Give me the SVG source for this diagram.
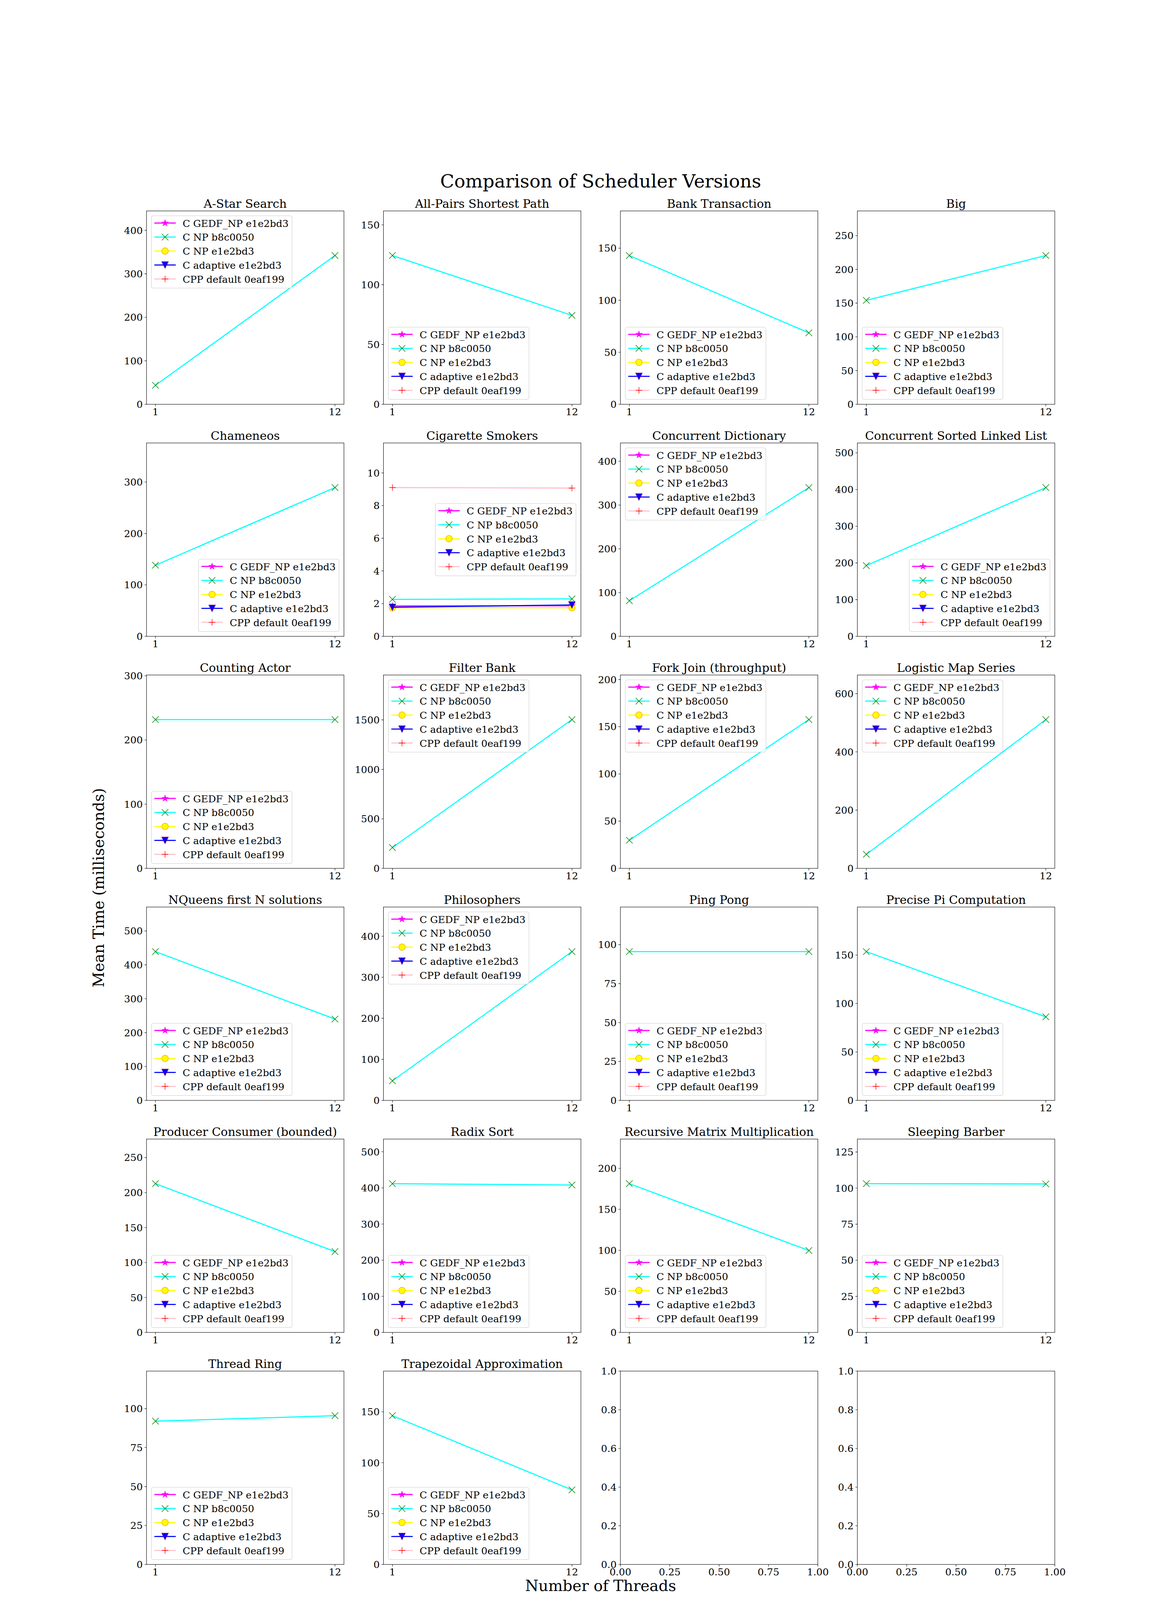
<svg xmlns="http://www.w3.org/2000/svg" xmlns:xlink="http://www.w3.org/1999/xlink" width="3000" height="4500" viewBox="0 0 3000 4500">
<style>
text{font-family:"DejaVu Serif","Liberation Serif",serif;fill:#000}
.ti{font-size:30px;text-anchor:middle}
.yt{font-size:25px;text-anchor:end}
.xt{font-size:25px;text-anchor:middle}
.lt{font-size:25px}
.ax{fill:none;stroke:#000;stroke-width:1.1}
.tk{fill:none;stroke:#000;stroke-width:1.1}
.lg{fill:#fff;fill-opacity:0.8;stroke:#cccccc;stroke-width:1.1}
.l-mg{stroke:#ff00ff;stroke-width:2.8;fill:none;stroke-linecap:square}
.l-cy{stroke:#00ffff;stroke-width:2.8;fill:none;stroke-linecap:square}
.l-ye{stroke:#ffff00;stroke-width:2.8;fill:none;stroke-linecap:square}
.l-bl{stroke:#0000ff;stroke-width:2.8;fill:none;stroke-linecap:square}
.l-pk{stroke:#ffc0cb;stroke-width:2.8;fill:none;stroke-linecap:square}
</style>
<defs>
<polygon id="mk-star" points="0,-8.35 1.875,-2.58 7.94,-2.58 3.03,0.99 4.91,6.76 0,3.19 -4.91,6.76 -3.03,0.99 -7.94,-2.58 -1.875,-2.58" fill="#ff00ff" stroke="#ff00ff" stroke-width="1.2"/>
<path id="mk-x" d="M-8.35,-8.35L8.35,8.35M-8.35,8.35L8.35,-8.35" stroke="#008000" stroke-width="1.4" fill="none"/>
<circle id="mk-o" r="8.35" fill="#ffff00" stroke="#ffa500" stroke-width="1.4"/>
<polygon id="mk-v" points="-8.35,-8.35 8.35,-8.35 0,8.35" fill="#0000ff" stroke="#800080" stroke-width="1.4"/>
<path id="mk-p" d="M-8.35,0H8.35M0,-8.35V8.35" stroke="#ff0000" stroke-width="1.4" fill="none"/>
<g id="lgh">
<rect class="lg" x="0" y="0" width="360" height="185" rx="5"/>
<path class="l-mg" d="M9,18.5H61"/><use href="#mk-star" x="35" y="18.5"/>
<path class="l-cy" d="M9,54.3H61"/><use href="#mk-x" x="35" y="54.3"/>
<path class="l-ye" d="M9,90.1H61"/><use href="#mk-o" x="35" y="90.1"/>
<path class="l-bl" d="M9,125.9H61"/><use href="#mk-v" x="35" y="125.9"/>
<path class="l-pk" d="M9,161.7H61"/><use href="#mk-p" x="35" y="161.7"/>
</g>
</defs>
<rect width="3000" height="4500" fill="#fff"/>
<text x="1537.5" y="480" style="font-size:47px;text-anchor:middle">Comparison of Scheduler Versions</text>
<text x="266" y="2272.5" transform="rotate(-90,266,2272.5)" style="font-size:39px;text-anchor:middle">Mean Time (milliseconds)</text>
<text x="1537.5" y="4073" style="font-size:39px;text-anchor:middle">Number of Threads</text>

<!-- Row 1 -->
<g id="p-astar" transform="translate(375,540)">
<text class="ti" x="252.7" y="-8.3">A-Star Search</text>
<path class="l-cy" d="M22.97,446.4L482.45,114.2"/>
<use href="#mk-x" x="22.97" y="446.4"/><use href="#mk-x" x="482.45" y="114.2"/>
<rect class="ax" width="505.43" height="495"/>
<path class="tk" d="M0,495h-4.9M0,383.6h-4.9M0,272.3h-4.9M0,160.9h-4.9M0,49.6h-4.9M22.97,495v4.9M482.45,495v4.9"/>
<text class="yt" x="-9.7" y="504">0</text><text class="yt" x="-9.7" y="392.6">100</text><text class="yt" x="-9.7" y="281.3">200</text><text class="yt" x="-9.7" y="169.9">300</text><text class="yt" x="-9.7" y="58.6">400</text>
<text class="xt" x="22.97" y="523">1</text><text class="xt" x="482.45" y="523">12</text>
<g transform="translate(12.5,12.5)"><use href="#lgh"/><text class="lt" x="80" y="28">C GEDF_NP e1e2bd3</text><text class="lt" x="80" y="63.8">C NP b8c0050</text><text class="lt" x="80" y="99.6">C NP e1e2bd3</text><text class="lt" x="80" y="135.4">C adaptive e1e2bd3</text><text class="lt" x="80" y="171.2">CPP default 0eaf199</text></g>
</g>

<g id="p-apsp" transform="translate(981.52,540)">
<text class="ti" x="252.7" y="-8.3">All-Pairs Shortest Path</text>
<path class="l-cy" d="M22.97,114.2L482.45,267.3"/>
<use href="#mk-x" x="22.97" y="114.2"/><use href="#mk-x" x="482.45" y="267.3"/>
<rect class="ax" width="505.43" height="495"/>
<path class="tk" d="M0,495h-4.9M0,341.9h-4.9M0,188.9h-4.9M0,35.8h-4.9M22.97,495v4.9M482.45,495v4.9"/>
<text class="yt" x="-9.7" y="504">0</text><text class="yt" x="-9.7" y="350.9">50</text><text class="yt" x="-9.7" y="197.9">100</text><text class="yt" x="-9.7" y="44.8">150</text>
<text class="xt" x="22.97" y="523">1</text><text class="xt" x="482.45" y="523">12</text>
<g transform="translate(12.5,297.5)"><use href="#lgh"/><text class="lt" x="80" y="28">C GEDF_NP e1e2bd3</text><text class="lt" x="80" y="63.8">C NP b8c0050</text><text class="lt" x="80" y="99.6">C NP e1e2bd3</text><text class="lt" x="80" y="135.4">C adaptive e1e2bd3</text><text class="lt" x="80" y="171.2">CPP default 0eaf199</text></g>
</g>

<g id="p-bank" transform="translate(1588.04,540)">
<text class="ti" x="252.7" y="-8.3">Bank Transaction</text>
<path class="l-cy" d="M22.97,114.2L482.45,312.2"/>
<use href="#mk-x" x="22.97" y="114.2"/><use href="#mk-x" x="482.45" y="312.2"/>
<rect class="ax" width="505.43" height="495"/>
<path class="tk" d="M0,495h-4.9M0,361.8h-4.9M0,228.6h-4.9M0,95.4h-4.9M22.97,495v4.9M482.45,495v4.9"/>
<text class="yt" x="-9.7" y="504">0</text><text class="yt" x="-9.7" y="370.8">50</text><text class="yt" x="-9.7" y="237.6">100</text><text class="yt" x="-9.7" y="104.4">150</text>
<text class="xt" x="22.97" y="523">1</text><text class="xt" x="482.45" y="523">12</text>
<g transform="translate(12.5,297.5)"><use href="#lgh"/><text class="lt" x="80" y="28">C GEDF_NP e1e2bd3</text><text class="lt" x="80" y="63.8">C NP b8c0050</text><text class="lt" x="80" y="99.6">C NP e1e2bd3</text><text class="lt" x="80" y="135.4">C adaptive e1e2bd3</text><text class="lt" x="80" y="171.2">CPP default 0eaf199</text></g>
</g>

<g id="p-big" transform="translate(2194.57,540)">
<text class="ti" x="252.7" y="-8.3">Big</text>
<path class="l-cy" d="M22.97,228.9L482.45,114.2"/>
<use href="#mk-x" x="22.97" y="228.9"/><use href="#mk-x" x="482.45" y="114.2"/>
<rect class="ax" width="505.43" height="495"/>
<path class="tk" d="M0,495h-4.9M0,408.6h-4.9M0,322.3h-4.9M0,235.9h-4.9M0,149.6h-4.9M0,63.2h-4.9M22.97,495v4.9M482.45,495v4.9"/>
<text class="yt" x="-9.7" y="504">0</text><text class="yt" x="-9.7" y="417.6">50</text><text class="yt" x="-9.7" y="331.3">100</text><text class="yt" x="-9.7" y="244.9">150</text><text class="yt" x="-9.7" y="158.6">200</text><text class="yt" x="-9.7" y="72.2">250</text>
<text class="xt" x="22.97" y="523">1</text><text class="xt" x="482.45" y="523">12</text>
<g transform="translate(12.5,297.5)"><use href="#lgh"/><text class="lt" x="80" y="28">C GEDF_NP e1e2bd3</text><text class="lt" x="80" y="63.8">C NP b8c0050</text><text class="lt" x="80" y="99.6">C NP e1e2bd3</text><text class="lt" x="80" y="135.4">C adaptive e1e2bd3</text><text class="lt" x="80" y="171.2">CPP default 0eaf199</text></g>
</g>

<!-- Row 2 -->
<g id="p-chameneos" transform="translate(375,1134)">
<text class="ti" x="252.7" y="-8.3">Chameneos</text>
<path class="l-cy" d="M22.97,313L482.45,114.2"/>
<use href="#mk-x" x="22.97" y="313"/><use href="#mk-x" x="482.45" y="114.2"/>
<rect class="ax" width="505.43" height="495"/>
<path class="tk" d="M0,495h-4.9M0,363.3h-4.9M0,231.6h-4.9M0,100h-4.9M22.97,495v4.9M482.45,495v4.9"/>
<text class="yt" x="-9.7" y="504">0</text><text class="yt" x="-9.7" y="372.3">100</text><text class="yt" x="-9.7" y="240.6">200</text><text class="yt" x="-9.7" y="109">300</text>
<text class="xt" x="22.97" y="523">1</text><text class="xt" x="482.45" y="523">12</text>
<g transform="translate(132.9,297.5)"><use href="#lgh"/><text class="lt" x="80" y="28">C GEDF_NP e1e2bd3</text><text class="lt" x="80" y="63.8">C NP b8c0050</text><text class="lt" x="80" y="99.6">C NP e1e2bd3</text><text class="lt" x="80" y="135.4">C adaptive e1e2bd3</text><text class="lt" x="80" y="171.2">CPP default 0eaf199</text></g>
</g>

<g id="p-cigarette" transform="translate(981.52,1134)">
<text class="ti" x="252.7" y="-8.3">Cigarette Smokers</text>
<path class="l-mg" d="M22.97,417.2L482.45,416.8"/>
<use href="#mk-star" x="22.97" y="417.2"/><use href="#mk-star" x="482.45" y="416.8"/>
<path class="l-cy" d="M22.97,400.4L482.45,399.2"/>
<use href="#mk-x" x="22.97" y="400.4"/><use href="#mk-x" x="482.45" y="399.2"/>
<path class="l-ye" d="M22.97,421.8L482.45,421.8"/>
<use href="#mk-o" x="22.97" y="421.8"/><use href="#mk-o" x="482.45" y="421.8"/>
<path class="l-bl" d="M22.97,420.5L482.45,414.7"/>
<use href="#mk-v" x="22.97" y="420.5"/><use href="#mk-v" x="482.45" y="414.7"/>
<path class="l-pk" d="M22.97,114.2L482.45,115.5"/>
<use href="#mk-p" x="22.97" y="114.2"/><use href="#mk-p" x="482.45" y="115.5"/>
<rect class="ax" width="505.43" height="495"/>
<path class="tk" d="M0,495h-4.9M0,411.3h-4.9M0,327.6h-4.9M0,243.9h-4.9M0,160.3h-4.9M0,76.6h-4.9M22.97,495v4.9M482.45,495v4.9"/>
<text class="yt" x="-9.7" y="504">0</text><text class="yt" x="-9.7" y="420.3">2</text><text class="yt" x="-9.7" y="336.6">4</text><text class="yt" x="-9.7" y="252.9">6</text><text class="yt" x="-9.7" y="169.3">8</text><text class="yt" x="-9.7" y="85.6">10</text>
<text class="xt" x="22.97" y="523">1</text><text class="xt" x="482.45" y="523">12</text>
<g transform="translate(132.9,155)"><use href="#lgh"/><text class="lt" x="80" y="28">C GEDF_NP e1e2bd3</text><text class="lt" x="80" y="63.8">C NP b8c0050</text><text class="lt" x="80" y="99.6">C NP e1e2bd3</text><text class="lt" x="80" y="135.4">C adaptive e1e2bd3</text><text class="lt" x="80" y="171.2">CPP default 0eaf199</text></g>
</g>

<g id="p-concdict" transform="translate(1588.04,1134)">
<text class="ti" x="252.7" y="-8.3">Concurrent Dictionary</text>
<path class="l-cy" d="M22.97,403.8L482.45,114.2"/>
<use href="#mk-x" x="22.97" y="403.8"/><use href="#mk-x" x="482.45" y="114.2"/>
<rect class="ax" width="505.43" height="495"/>
<path class="tk" d="M0,495h-4.9M0,383h-4.9M0,271h-4.9M0,159h-4.9M0,47h-4.9M22.97,495v4.9M482.45,495v4.9"/>
<text class="yt" x="-9.7" y="504">0</text><text class="yt" x="-9.7" y="392">100</text><text class="yt" x="-9.7" y="280">200</text><text class="yt" x="-9.7" y="168">300</text><text class="yt" x="-9.7" y="56">400</text>
<text class="xt" x="22.97" y="523">1</text><text class="xt" x="482.45" y="523">12</text>
<g transform="translate(12.5,12.5)"><use href="#lgh"/><text class="lt" x="80" y="28">C GEDF_NP e1e2bd3</text><text class="lt" x="80" y="63.8">C NP b8c0050</text><text class="lt" x="80" y="99.6">C NP e1e2bd3</text><text class="lt" x="80" y="135.4">C adaptive e1e2bd3</text><text class="lt" x="80" y="171.2">CPP default 0eaf199</text></g>
</g>

<g id="p-concsll" transform="translate(2194.57,1134)">
<text class="ti" x="252.7" y="-8.3">Concurrent Sorted Linked List</text>
<path class="l-cy" d="M22.97,313.8L482.45,114.2"/>
<use href="#mk-x" x="22.97" y="313.8"/><use href="#mk-x" x="482.45" y="114.2"/>
<rect class="ax" width="505.43" height="495"/>
<path class="tk" d="M0,495h-4.9M0,401.1h-4.9M0,307.1h-4.9M0,213.2h-4.9M0,119.2h-4.9M0,25.3h-4.9M22.97,495v4.9M482.45,495v4.9"/>
<text class="yt" x="-9.7" y="504">0</text><text class="yt" x="-9.7" y="410.1">100</text><text class="yt" x="-9.7" y="316.1">200</text><text class="yt" x="-9.7" y="222.2">300</text><text class="yt" x="-9.7" y="128.2">400</text><text class="yt" x="-9.7" y="34.3">500</text>
<text class="xt" x="22.97" y="523">1</text><text class="xt" x="482.45" y="523">12</text>
<g transform="translate(132.9,297.5)"><use href="#lgh"/><text class="lt" x="80" y="28">C GEDF_NP e1e2bd3</text><text class="lt" x="80" y="63.8">C NP b8c0050</text><text class="lt" x="80" y="99.6">C NP e1e2bd3</text><text class="lt" x="80" y="135.4">C adaptive e1e2bd3</text><text class="lt" x="80" y="171.2">CPP default 0eaf199</text></g>
</g>

<!-- Row 3 -->
<g id="p-counting" transform="translate(375,1728)">
<text class="ti" x="252.7" y="-8.3">Counting Actor</text>
<path class="l-cy" d="M22.97,114.2L482.45,114.2"/>
<use href="#mk-x" x="22.97" y="114.2"/><use href="#mk-x" x="482.45" y="114.2"/>
<rect class="ax" width="505.43" height="495"/>
<path class="tk" d="M0,495h-4.9M0,330.7h-4.9M0,166.3h-4.9M0,2h-4.9M22.97,495v4.9M482.45,495v4.9"/>
<text class="yt" x="-9.7" y="504">0</text><text class="yt" x="-9.7" y="339.7">100</text><text class="yt" x="-9.7" y="175.3">200</text><text class="yt" x="-9.7" y="11">300</text>
<text class="xt" x="22.97" y="523">1</text><text class="xt" x="482.45" y="523">12</text>
<g transform="translate(12.5,297.5)"><use href="#lgh"/><text class="lt" x="80" y="28">C GEDF_NP e1e2bd3</text><text class="lt" x="80" y="63.8">C NP b8c0050</text><text class="lt" x="80" y="99.6">C NP e1e2bd3</text><text class="lt" x="80" y="135.4">C adaptive e1e2bd3</text><text class="lt" x="80" y="171.2">CPP default 0eaf199</text></g>
</g>

<g id="p-filterbank" transform="translate(981.52,1728)">
<text class="ti" x="252.7" y="-8.3">Filter Bank</text>
<path class="l-cy" d="M22.97,441.6L482.45,114.2"/>
<use href="#mk-x" x="22.97" y="441.6"/><use href="#mk-x" x="482.45" y="114.2"/>
<rect class="ax" width="505.43" height="495"/>
<path class="tk" d="M0,495h-4.9M0,368.3h-4.9M0,241.6h-4.9M0,114.9h-4.9M22.97,495v4.9M482.45,495v4.9"/>
<text class="yt" x="-9.7" y="504">0</text><text class="yt" x="-9.7" y="377.3">500</text><text class="yt" x="-9.7" y="250.6">1000</text><text class="yt" x="-9.7" y="123.9">1500</text>
<text class="xt" x="22.97" y="523">1</text><text class="xt" x="482.45" y="523">12</text>
<g transform="translate(12.5,12.5)"><use href="#lgh"/><text class="lt" x="80" y="28">C GEDF_NP e1e2bd3</text><text class="lt" x="80" y="63.8">C NP b8c0050</text><text class="lt" x="80" y="99.6">C NP e1e2bd3</text><text class="lt" x="80" y="135.4">C adaptive e1e2bd3</text><text class="lt" x="80" y="171.2">CPP default 0eaf199</text></g>
</g>

<g id="p-forkjoin" transform="translate(1588.04,1728)">
<text class="ti" x="252.7" y="-8.3">Fork Join (throughput)</text>
<path class="l-cy" d="M22.97,423L482.45,114.2"/>
<use href="#mk-x" x="22.97" y="423"/><use href="#mk-x" x="482.45" y="114.2"/>
<rect class="ax" width="505.43" height="495"/>
<path class="tk" d="M0,495h-4.9M0,374.1h-4.9M0,253.3h-4.9M0,132.4h-4.9M0,11.6h-4.9M22.97,495v4.9M482.45,495v4.9"/>
<text class="yt" x="-9.7" y="504">0</text><text class="yt" x="-9.7" y="383.1">50</text><text class="yt" x="-9.7" y="262.3">100</text><text class="yt" x="-9.7" y="141.4">150</text><text class="yt" x="-9.7" y="20.6">200</text>
<text class="xt" x="22.97" y="523">1</text><text class="xt" x="482.45" y="523">12</text>
<g transform="translate(12.5,12.5)"><use href="#lgh"/><text class="lt" x="80" y="28">C GEDF_NP e1e2bd3</text><text class="lt" x="80" y="63.8">C NP b8c0050</text><text class="lt" x="80" y="99.6">C NP e1e2bd3</text><text class="lt" x="80" y="135.4">C adaptive e1e2bd3</text><text class="lt" x="80" y="171.2">CPP default 0eaf199</text></g>
</g>

<g id="p-logistic" transform="translate(2194.57,1728)">
<text class="ti" x="252.7" y="-8.3">Logistic Map Series</text>
<path class="l-cy" d="M22.97,459L482.45,114.2"/>
<use href="#mk-x" x="22.97" y="459"/><use href="#mk-x" x="482.45" y="114.2"/>
<rect class="ax" width="505.43" height="495"/>
<path class="tk" d="M0,495h-4.9M0,345.9h-4.9M0,196.7h-4.9M0,47.6h-4.9M22.97,495v4.9M482.45,495v4.9"/>
<text class="yt" x="-9.7" y="504">0</text><text class="yt" x="-9.7" y="354.9">200</text><text class="yt" x="-9.7" y="205.7">400</text><text class="yt" x="-9.7" y="56.6">600</text>
<text class="xt" x="22.97" y="523">1</text><text class="xt" x="482.45" y="523">12</text>
<g transform="translate(12.5,12.5)"><use href="#lgh"/><text class="lt" x="80" y="28">C GEDF_NP e1e2bd3</text><text class="lt" x="80" y="63.8">C NP b8c0050</text><text class="lt" x="80" y="99.6">C NP e1e2bd3</text><text class="lt" x="80" y="135.4">C adaptive e1e2bd3</text><text class="lt" x="80" y="171.2">CPP default 0eaf199</text></g>
</g>

<!-- Row 4 -->
<g id="p-nqueens" transform="translate(375,2322)">
<text class="ti" x="252.7" y="-8.3">NQueens first N solutions</text>
<path class="l-cy" d="M22.97,114.2L482.45,286.9"/>
<use href="#mk-x" x="22.97" y="114.2"/><use href="#mk-x" x="482.45" y="286.9"/>
<rect class="ax" width="505.43" height="495"/>
<path class="tk" d="M0,495h-4.9M0,408.3h-4.9M0,321.6h-4.9M0,234.8h-4.9M0,148.1h-4.9M0,61.4h-4.9M22.97,495v4.9M482.45,495v4.9"/>
<text class="yt" x="-9.7" y="504">0</text><text class="yt" x="-9.7" y="417.3">100</text><text class="yt" x="-9.7" y="330.6">200</text><text class="yt" x="-9.7" y="243.8">300</text><text class="yt" x="-9.7" y="157.1">400</text><text class="yt" x="-9.7" y="70.4">500</text>
<text class="xt" x="22.97" y="523">1</text><text class="xt" x="482.45" y="523">12</text>
<g transform="translate(12.5,297.5)"><use href="#lgh"/><text class="lt" x="80" y="28">C GEDF_NP e1e2bd3</text><text class="lt" x="80" y="63.8">C NP b8c0050</text><text class="lt" x="80" y="99.6">C NP e1e2bd3</text><text class="lt" x="80" y="135.4">C adaptive e1e2bd3</text><text class="lt" x="80" y="171.2">CPP default 0eaf199</text></g>
</g>

<g id="p-philosophers" transform="translate(981.52,2322)">
<text class="ti" x="252.7" y="-8.3">Philosophers</text>
<path class="l-cy" d="M22.97,444.9L482.45,114.2"/>
<use href="#mk-x" x="22.97" y="444.9"/><use href="#mk-x" x="482.45" y="114.2"/>
<rect class="ax" width="505.43" height="495"/>
<path class="tk" d="M0,495h-4.9M0,389.9h-4.9M0,284.9h-4.9M0,179.8h-4.9M0,74.8h-4.9M22.97,495v4.9M482.45,495v4.9"/>
<text class="yt" x="-9.7" y="504">0</text><text class="yt" x="-9.7" y="398.9">100</text><text class="yt" x="-9.7" y="293.9">200</text><text class="yt" x="-9.7" y="188.8">300</text><text class="yt" x="-9.7" y="83.8">400</text>
<text class="xt" x="22.97" y="523">1</text><text class="xt" x="482.45" y="523">12</text>
<g transform="translate(12.5,12.5)"><use href="#lgh"/><text class="lt" x="80" y="28">C GEDF_NP e1e2bd3</text><text class="lt" x="80" y="63.8">C NP b8c0050</text><text class="lt" x="80" y="99.6">C NP e1e2bd3</text><text class="lt" x="80" y="135.4">C adaptive e1e2bd3</text><text class="lt" x="80" y="171.2">CPP default 0eaf199</text></g>
</g>

<g id="p-pingpong" transform="translate(1588.04,2322)">
<text class="ti" x="252.7" y="-8.3">Ping Pong</text>
<path class="l-cy" d="M22.97,114.2L482.45,114.2"/>
<use href="#mk-x" x="22.97" y="114.2"/><use href="#mk-x" x="482.45" y="114.2"/>
<rect class="ax" width="505.43" height="495"/>
<path class="tk" d="M0,495h-4.9M0,395.4h-4.9M0,295.7h-4.9M0,196.1h-4.9M0,96.4h-4.9M22.97,495v4.9M482.45,495v4.9"/>
<text class="yt" x="-9.7" y="504">0</text><text class="yt" x="-9.7" y="404.4">25</text><text class="yt" x="-9.7" y="304.7">50</text><text class="yt" x="-9.7" y="205.1">75</text><text class="yt" x="-9.7" y="105.4">100</text>
<text class="xt" x="22.97" y="523">1</text><text class="xt" x="482.45" y="523">12</text>
<g transform="translate(12.5,297.5)"><use href="#lgh"/><text class="lt" x="80" y="28">C GEDF_NP e1e2bd3</text><text class="lt" x="80" y="63.8">C NP b8c0050</text><text class="lt" x="80" y="99.6">C NP e1e2bd3</text><text class="lt" x="80" y="135.4">C adaptive e1e2bd3</text><text class="lt" x="80" y="171.2">CPP default 0eaf199</text></g>
</g>

<g id="p-precisepi" transform="translate(2194.57,2322)">
<text class="ti" x="252.7" y="-8.3">Precise Pi Computation</text>
<path class="l-cy" d="M22.97,114.2L482.45,281.2"/>
<use href="#mk-x" x="22.97" y="114.2"/><use href="#mk-x" x="482.45" y="281.2"/>
<rect class="ax" width="505.43" height="495"/>
<path class="tk" d="M0,495h-4.9M0,371h-4.9M0,247h-4.9M0,123h-4.9M22.97,495v4.9M482.45,495v4.9"/>
<text class="yt" x="-9.7" y="504">0</text><text class="yt" x="-9.7" y="380">50</text><text class="yt" x="-9.7" y="256">100</text><text class="yt" x="-9.7" y="132">150</text>
<text class="xt" x="22.97" y="523">1</text><text class="xt" x="482.45" y="523">12</text>
<g transform="translate(12.5,297.5)"><use href="#lgh"/><text class="lt" x="80" y="28">C GEDF_NP e1e2bd3</text><text class="lt" x="80" y="63.8">C NP b8c0050</text><text class="lt" x="80" y="99.6">C NP e1e2bd3</text><text class="lt" x="80" y="135.4">C adaptive e1e2bd3</text><text class="lt" x="80" y="171.2">CPP default 0eaf199</text></g>
</g>

<!-- Row 5 -->
<g id="p-prodcons" transform="translate(375,2916)">
<text class="ti" x="252.7" y="-8.3">Producer Consumer (bounded)</text>
<path class="l-cy" d="M22.97,114.2L482.45,288.1"/>
<use href="#mk-x" x="22.97" y="114.2"/><use href="#mk-x" x="482.45" y="288.1"/>
<rect class="ax" width="505.43" height="495"/>
<path class="tk" d="M0,495h-4.9M0,405.5h-4.9M0,316h-4.9M0,226.5h-4.9M0,137h-4.9M0,47.4h-4.9M22.97,495v4.9M482.45,495v4.9"/>
<text class="yt" x="-9.7" y="504">0</text><text class="yt" x="-9.7" y="414.5">50</text><text class="yt" x="-9.7" y="325">100</text><text class="yt" x="-9.7" y="235.5">150</text><text class="yt" x="-9.7" y="146">200</text><text class="yt" x="-9.7" y="56.4">250</text>
<text class="xt" x="22.97" y="523">1</text><text class="xt" x="482.45" y="523">12</text>
<g transform="translate(12.5,297.5)"><use href="#lgh"/><text class="lt" x="80" y="28">C GEDF_NP e1e2bd3</text><text class="lt" x="80" y="63.8">C NP b8c0050</text><text class="lt" x="80" y="99.6">C NP e1e2bd3</text><text class="lt" x="80" y="135.4">C adaptive e1e2bd3</text><text class="lt" x="80" y="171.2">CPP default 0eaf199</text></g>
</g>

<g id="p-radix" transform="translate(981.52,2916)">
<text class="ti" x="252.7" y="-8.3">Radix Sort</text>
<path class="l-cy" d="M22.97,114.2L482.45,117.6"/>
<use href="#mk-x" x="22.97" y="114.2"/><use href="#mk-x" x="482.45" y="117.6"/>
<rect class="ax" width="505.43" height="495"/>
<path class="tk" d="M0,495h-4.9M0,402.5h-4.9M0,310h-4.9M0,217.5h-4.9M0,125h-4.9M0,32.5h-4.9M22.97,495v4.9M482.45,495v4.9"/>
<text class="yt" x="-9.7" y="504">0</text><text class="yt" x="-9.7" y="411.5">100</text><text class="yt" x="-9.7" y="319">200</text><text class="yt" x="-9.7" y="226.5">300</text><text class="yt" x="-9.7" y="134">400</text><text class="yt" x="-9.7" y="41.5">500</text>
<text class="xt" x="22.97" y="523">1</text><text class="xt" x="482.45" y="523">12</text>
<g transform="translate(12.5,297.5)"><use href="#lgh"/><text class="lt" x="80" y="28">C GEDF_NP e1e2bd3</text><text class="lt" x="80" y="63.8">C NP b8c0050</text><text class="lt" x="80" y="99.6">C NP e1e2bd3</text><text class="lt" x="80" y="135.4">C adaptive e1e2bd3</text><text class="lt" x="80" y="171.2">CPP default 0eaf199</text></g>
</g>

<g id="p-recmat" transform="translate(1588.04,2916)">
<text class="ti" x="252.7" y="-8.3">Recursive Matrix Multiplication</text>
<path class="l-cy" d="M22.97,114.2L482.45,285.4"/>
<use href="#mk-x" x="22.97" y="114.2"/><use href="#mk-x" x="482.45" y="285.4"/>
<rect class="ax" width="505.43" height="495"/>
<path class="tk" d="M0,495h-4.9M0,390h-4.9M0,285h-4.9M0,180h-4.9M0,75h-4.9M22.97,495v4.9M482.45,495v4.9"/>
<text class="yt" x="-9.7" y="504">0</text><text class="yt" x="-9.7" y="399">50</text><text class="yt" x="-9.7" y="294">100</text><text class="yt" x="-9.7" y="189">150</text><text class="yt" x="-9.7" y="84">200</text>
<text class="xt" x="22.97" y="523">1</text><text class="xt" x="482.45" y="523">12</text>
<g transform="translate(12.5,297.5)"><use href="#lgh"/><text class="lt" x="80" y="28">C GEDF_NP e1e2bd3</text><text class="lt" x="80" y="63.8">C NP b8c0050</text><text class="lt" x="80" y="99.6">C NP e1e2bd3</text><text class="lt" x="80" y="135.4">C adaptive e1e2bd3</text><text class="lt" x="80" y="171.2">CPP default 0eaf199</text></g>
</g>

<g id="p-sleeping" transform="translate(2194.57,2916)">
<text class="ti" x="252.7" y="-8.3">Sleeping Barber</text>
<path class="l-cy" d="M22.97,114.2L482.45,115"/>
<use href="#mk-x" x="22.97" y="114.2"/><use href="#mk-x" x="482.45" y="115"/>
<rect class="ax" width="505.43" height="495"/>
<path class="tk" d="M0,495h-4.9M0,402.6h-4.9M0,310.2h-4.9M0,217.9h-4.9M0,125.5h-4.9M0,33.1h-4.9M22.97,495v4.9M482.45,495v4.9"/>
<text class="yt" x="-9.7" y="504">0</text><text class="yt" x="-9.7" y="411.6">25</text><text class="yt" x="-9.7" y="319.2">50</text><text class="yt" x="-9.7" y="226.9">75</text><text class="yt" x="-9.7" y="134.5">100</text><text class="yt" x="-9.7" y="42.1">125</text>
<text class="xt" x="22.97" y="523">1</text><text class="xt" x="482.45" y="523">12</text>
<g transform="translate(12.5,297.5)"><use href="#lgh"/><text class="lt" x="80" y="28">C GEDF_NP e1e2bd3</text><text class="lt" x="80" y="63.8">C NP b8c0050</text><text class="lt" x="80" y="99.6">C NP e1e2bd3</text><text class="lt" x="80" y="135.4">C adaptive e1e2bd3</text><text class="lt" x="80" y="171.2">CPP default 0eaf199</text></g>
</g>

<!-- Row 6 -->
<g id="p-threadring" transform="translate(375,3510)">
<text class="ti" x="252.7" y="-8.3">Thread Ring</text>
<path class="l-cy" d="M22.97,128.2L482.45,114.2"/>
<use href="#mk-x" x="22.97" y="128.2"/><use href="#mk-x" x="482.45" y="114.2"/>
<rect class="ax" width="505.43" height="495"/>
<path class="tk" d="M0,495h-4.9M0,395.3h-4.9M0,295.6h-4.9M0,195.8h-4.9M0,96.1h-4.9M22.97,495v4.9M482.45,495v4.9"/>
<text class="yt" x="-9.7" y="504">0</text><text class="yt" x="-9.7" y="404.3">25</text><text class="yt" x="-9.7" y="304.6">50</text><text class="yt" x="-9.7" y="204.8">75</text><text class="yt" x="-9.7" y="105.1">100</text>
<text class="xt" x="22.97" y="523">1</text><text class="xt" x="482.45" y="523">12</text>
<g transform="translate(12.5,297.5)"><use href="#lgh"/><text class="lt" x="80" y="28">C GEDF_NP e1e2bd3</text><text class="lt" x="80" y="63.8">C NP b8c0050</text><text class="lt" x="80" y="99.6">C NP e1e2bd3</text><text class="lt" x="80" y="135.4">C adaptive e1e2bd3</text><text class="lt" x="80" y="171.2">CPP default 0eaf199</text></g>
</g>

<g id="p-trapezoidal" transform="translate(981.52,3510)">
<text class="ti" x="252.7" y="-8.3">Trapezoidal Approximation</text>
<path class="l-cy" d="M22.97,114.2L482.45,304.1"/>
<use href="#mk-x" x="22.97" y="114.2"/><use href="#mk-x" x="482.45" y="304.1"/>
<rect class="ax" width="505.43" height="495"/>
<path class="tk" d="M0,495h-4.9M0,364.7h-4.9M0,234.5h-4.9M0,104.2h-4.9M22.97,495v4.9M482.45,495v4.9"/>
<text class="yt" x="-9.7" y="504">0</text><text class="yt" x="-9.7" y="373.7">50</text><text class="yt" x="-9.7" y="243.5">100</text><text class="yt" x="-9.7" y="113.2">150</text>
<text class="xt" x="22.97" y="523">1</text><text class="xt" x="482.45" y="523">12</text>
<g transform="translate(12.5,297.5)"><use href="#lgh"/><text class="lt" x="80" y="28">C GEDF_NP e1e2bd3</text><text class="lt" x="80" y="63.8">C NP b8c0050</text><text class="lt" x="80" y="99.6">C NP e1e2bd3</text><text class="lt" x="80" y="135.4">C adaptive e1e2bd3</text><text class="lt" x="80" y="171.2">CPP default 0eaf199</text></g>
</g>

<g id="p-empty1" transform="translate(1588.04,3510)">
<rect class="ax" width="505.43" height="495"/>
<path class="tk" d="M0,495h-4.9M0,396h-4.9M0,297h-4.9M0,198h-4.9M0,99h-4.9M0,0h-4.9M0,495v4.9M126.36,495v4.9M252.72,495v4.9M379.07,495v4.9M505.43,495v4.9"/>
<text class="yt" x="-9.7" y="504">0.0</text><text class="yt" x="-9.7" y="405">0.2</text><text class="yt" x="-9.7" y="306">0.4</text><text class="yt" x="-9.7" y="207">0.6</text><text class="yt" x="-9.7" y="108">0.8</text><text class="yt" x="-9.7" y="9">1.0</text>
<text class="xt" x="0" y="523">0.00</text><text class="xt" x="126.36" y="523">0.25</text><text class="xt" x="252.72" y="523">0.50</text><text class="xt" x="379.07" y="523">0.75</text><text class="xt" x="505.43" y="523">1.00</text>
</g>

<g id="p-empty2" transform="translate(2194.57,3510)">
<rect class="ax" width="505.43" height="495"/>
<path class="tk" d="M0,495h-4.9M0,396h-4.9M0,297h-4.9M0,198h-4.9M0,99h-4.9M0,0h-4.9M0,495v4.9M126.36,495v4.9M252.72,495v4.9M379.07,495v4.9M505.43,495v4.9"/>
<text class="yt" x="-9.7" y="504">0.0</text><text class="yt" x="-9.7" y="405">0.2</text><text class="yt" x="-9.7" y="306">0.4</text><text class="yt" x="-9.7" y="207">0.6</text><text class="yt" x="-9.7" y="108">0.8</text><text class="yt" x="-9.7" y="9">1.0</text>
<text class="xt" x="0" y="523">0.00</text><text class="xt" x="126.36" y="523">0.25</text><text class="xt" x="252.72" y="523">0.50</text><text class="xt" x="379.07" y="523">0.75</text><text class="xt" x="505.43" y="523">1.00</text>
</g>
</svg>
